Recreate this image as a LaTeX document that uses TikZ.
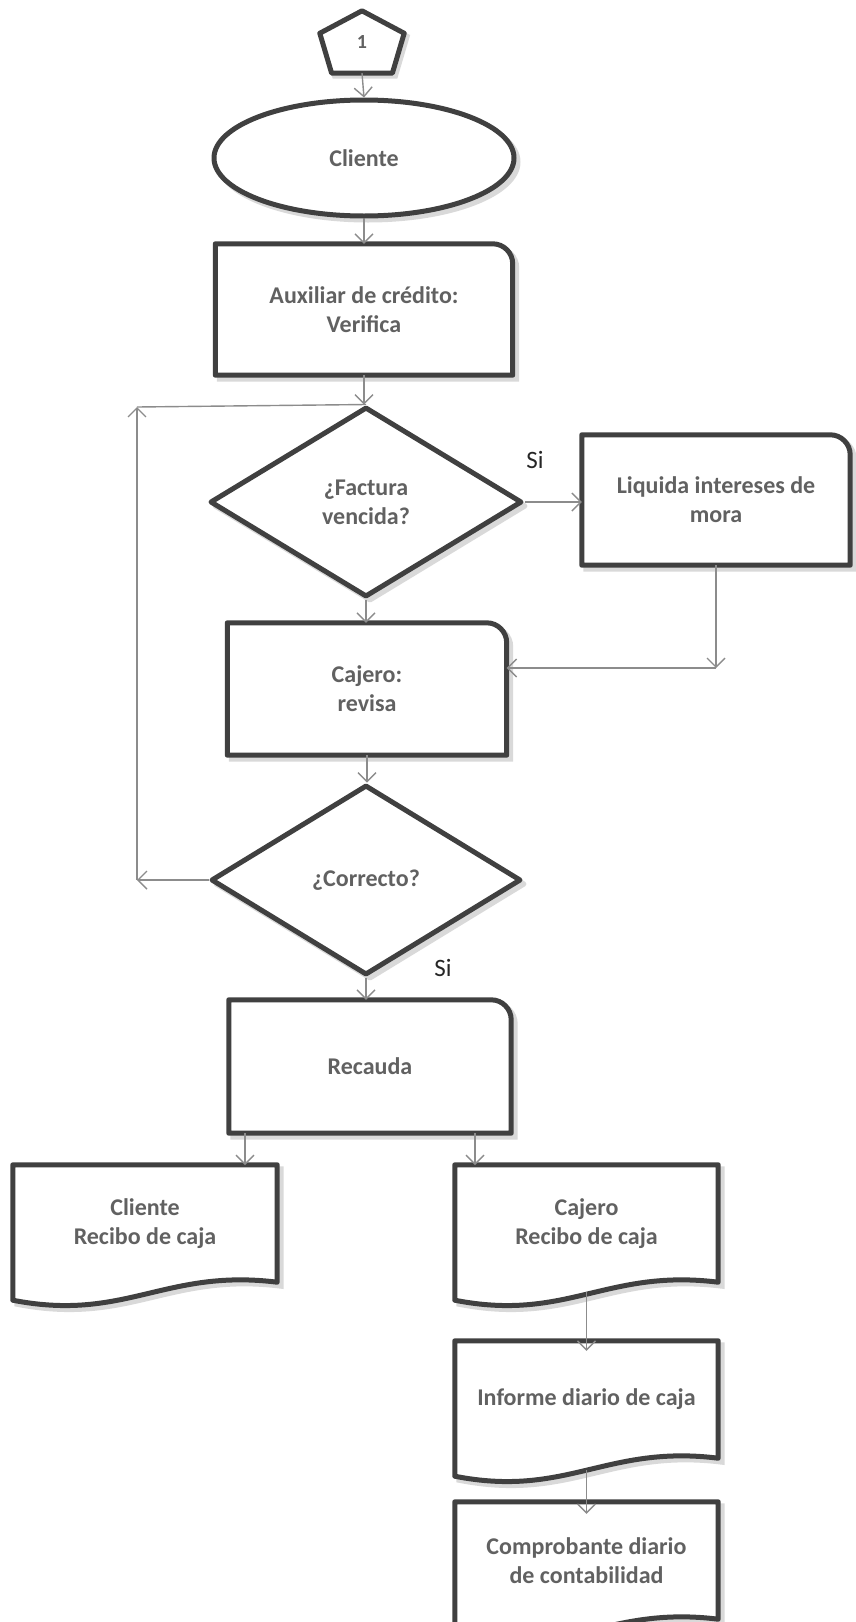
\documentclass[tikz,border=0pt]{standalone}
\usepackage{fontspec}
\setmainfont{Carlito}
\usetikzlibrary{shapes.geometric,arrows.meta,calc,shadows,backgrounds}

\tikzset{
  shapeline/.style={draw=black!75,line width=5pt,line join=round},
  shadowfill/.style={fill=black!15,draw=black!15,line width=5pt,opacity=1},
  boxtext/.style={align=center,text=black!62,font=\fontsize{24}{29}\selectfont\bfseries,inner sep=0pt},
  arr/.style={draw=black!45,line width=1.4pt,-{Straight Barb[length=9pt,width=18pt]}},
  plainline/.style={draw=black!45,line width=1.4pt},
  silabel/.style={font=\fontsize{25}{25}\selectfont,text=black!85,inner sep=0pt},
}

% box with a rounded top right corner
\newcommand\cardshape[1]{%
  \begin{scope}[on background layer]
    \path[shadowfill,transform canvas={shift={(4pt,-4pt)}}] (#1.south west) -- (#1.north west) -- ([xshift=-20pt]#1.north east) arc[start angle=90,end angle=0,radius=20pt] -- (#1.south east) -- cycle;
    \path[shapeline,fill=white] (#1.south west) -- (#1.north west) -- ([xshift=-20pt]#1.north east) arc[start angle=90,end angle=0,radius=20pt] -- (#1.south east) -- cycle;
  \end{scope}}
% document with a wavy bottom
\newcommand\docshape[1]{%
  \begin{scope}[on background layer]
    \path[shadowfill,transform canvas={shift={(4pt,-4pt)}}] (#1.north west) -- ([yshift=-18pt]#1.south west) .. controls ([xshift=-20pt,yshift=-40pt]#1.south) and ([xshift=20pt,yshift=14pt]#1.south) .. (#1.south east) -- (#1.north east) -- cycle;
    \path[shapeline,fill=white] (#1.north west) -- ([yshift=-18pt]#1.south west) .. controls ([xshift=-20pt,yshift=-40pt]#1.south) and ([xshift=20pt,yshift=14pt]#1.south) .. (#1.south east) -- (#1.north east) -- cycle;
  \end{scope}}
% off-page connector
\newcommand\pentshape[1]{%
  \begin{scope}[on background layer]
    \path[shadowfill,transform canvas={shift={(3pt,-3pt)}}] (#1.north) -- ($(#1.north east)!0.36!(#1.south east)$) -- ($(#1.south)!0.72!(#1.south east)$) -- ($(#1.south)!0.72!(#1.south west)$) -- ($(#1.north west)!0.36!(#1.south west)$) -- cycle;
    \path[shapeline,fill=white] (#1.north) -- ($(#1.north east)!0.36!(#1.south east)$) -- ($(#1.south)!0.72!(#1.south east)$) -- ($(#1.south)!0.72!(#1.south west)$) -- ($(#1.north west)!0.36!(#1.south west)$) -- cycle;
  \end{scope}}

\begin{document}
\begin{tikzpicture}[x=1pt,y=-1pt]
  \useasboundingbox (0,0) rectangle (856,1622);
  \clip (0,0) rectangle (856,1622);
  \node[boxtext,minimum width=84pt,minimum height=62pt] (start) at (362,42) {\raisebox{-4pt}{\fontsize{20}{20}\selectfont 1}};
  \pentshape{start}
  \node[ellipse,shapeline,fill=white,drop shadow={shadowfill,shadow xshift=4pt,shadow yshift=-4pt},boxtext,minimum width=300pt,minimum height=116pt] (cli) at (364,158) {Cliente};
  \node[boxtext,minimum width=297pt,minimum height=131pt] (aux) at (364,309.5) {Auxiliar de crédito:\\Verifica};
  \cardshape{aux}
  \node[diamond,aspect=1.7,shapeline,fill=white,drop shadow={shadowfill,shadow xshift=4pt,shadow yshift=-4pt},boxtext,minimum width=312pt,minimum height=190pt] (fac) at (366,502) {¿Factura\\vencida?};
  \node[boxtext,minimum width=268pt,minimum height=130pt] (liq) at (716,500) {Liquida intereses de\\mora};
  \cardshape{liq}
  \node[boxtext,minimum width=279pt,minimum height=132pt] (caj) at (367,689) {Cajero:\\revisa};
  \cardshape{caj}
  \node[diamond,aspect=1.7,shapeline,fill=white,drop shadow={shadowfill,shadow xshift=4pt,shadow yshift=-4pt},boxtext,minimum width=310pt,minimum height=190pt] (cor) at (366,880) {¿Correcto?};
  \node[boxtext,minimum width=282pt,minimum height=133pt] (rec) at (370,1066.5) {Recauda};
  \cardshape{rec}
  \node[boxtext,minimum width=264pt,minimum height=117pt] (recli) at (145,1223.5) {Cliente\\Recibo de caja};
  \docshape{recli}
  \node[boxtext,minimum width=263pt,minimum height=117pt] (recaj) at (586.5,1223.5) {Cajero\\Recibo de caja};
  \docshape{recaj}
  \node[boxtext,minimum width=263pt,minimum height=117pt] (inf) at (586.5,1399.5) {Informe diario de caja};
  \docshape{inf}
  \node[boxtext,minimum width=263pt,minimum height=117pt] (comp) at (586.5,1560.5) {Comprobante diario\\de contabilidad};
  \docshape{comp}
  \node[silabel] (si1) at (535,460) {Si};
  \node[silabel] (si2) at (443,968) {Si};
  % connectors
  \coordinate (loopbot) at (137,880);
  \coordinate (looptop) at (137,407);
  \coordinate (liqdown) at (716,668);
  \coordinate (r1) at (245,1165);
  \coordinate (r2) at (475,1165);
  \draw[arr] (start.south) -- (cli.north);
  \draw[arr] (cli.south) -- (cli.south |- aux.north);
  \draw[arr] (aux.south) -- (aux.south |- fac.north);
  \draw[arr] (fac.east) -- (fac.east -| liq.west);
  \draw[arr] (liq.south) -- (liqdown);
  \draw[arr] (liqdown) -- (liqdown -| caj.east);
  \draw[arr] (fac.south) -- (fac.south |- caj.north);
  \draw[arr] (caj.south) -- (caj.south |- cor.north);
  \draw[arr] (cor.west) -- (loopbot);
  \draw[arr] (loopbot) -- (looptop);
  \draw[plainline] (looptop) -- (fac.north);
  \draw[arr] (cor.south) -- (cor.south |- rec.north);
  \draw[arr] (r1 |- rec.south) -- (r1);
  \draw[arr] (r2 |- rec.south) -- (r2);
  \draw[arr] ([yshift=-10pt]recaj.south) -- ([yshift=-10pt]recaj.south |- inf.north);
  \draw[arr] ([yshift=-12pt]inf.south) -- ([yshift=-12pt]inf.south |- comp.north);
\end{tikzpicture}
\end{document}
